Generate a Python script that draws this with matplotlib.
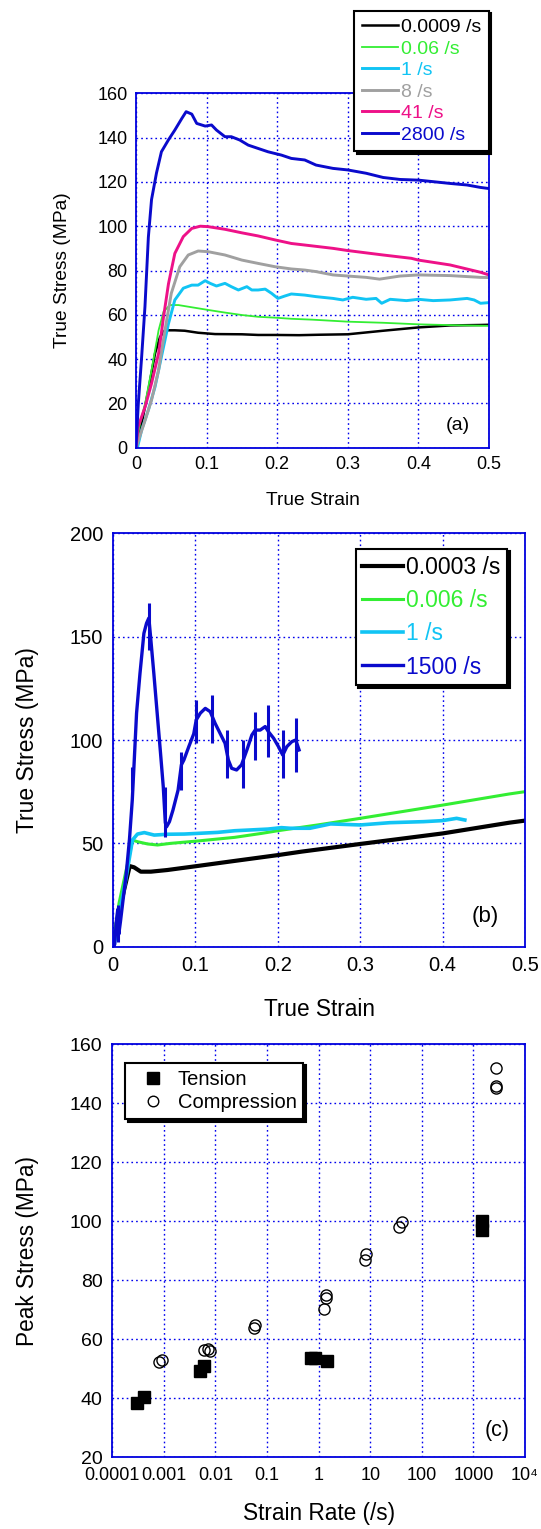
import numpy as np
import matplotlib.pyplot as plt

plt.rcParams['font.family'] = ['Liberation Sans', 'DejaVu Sans']

# ---- (a) compression, true stress vs true strain ----
labels_a = ['0.0009 /s', '0.06 /s', '1 /s', '8 /s', '41 /s', '2800 /s']
colors_a = ['#000000', '#33ee33', '#11c4f4', '#a0a0a0', '#ee1188', '#0a0acc']
widths_a = [1.8, 1.3, 2.1, 2.1, 2.1, 2.1]

strain_a1 = [0, 0.008, 0.0175, 0.027, 0.034, 0.041, 0.055, 0.069, 0.088, 0.112, 0.15, 0.173,
             0.197, 0.231, 0.26, 0.3, 0.35, 0.4, 0.445, 0.488, 0.5]
stress_a1 = [0, 11, 26, 42.6, 50, 53, 53, 52.8, 51.9, 51.3, 51.2, 50.9,
             50.9, 50.8, 51, 51.2, 52.8, 54.3, 55.2, 55.4, 55.5]

strain_a2 = [0, 0.0057, 0.013, 0.022, 0.032, 0.039, 0.048, 0.06, 0.079, 0.102, 0.126, 0.15,
             0.173, 0.197, 0.22, 0.25, 0.3, 0.35, 0.4, 0.45, 0.5]
stress_a2 = [0, 11, 20, 35, 53, 61.4, 64.4, 64.4, 63.4, 62.2, 61, 59.9,
             59.1, 58.7, 58.2, 57.8, 56.9, 56.4, 55.7, 55.3, 55]

strain_a3 = [0.002, 0.008, 0.0175, 0.027, 0.036, 0.046, 0.055, 0.067, 0.079, 0.088, 0.098, 0.105,
             0.114, 0.126, 0.135, 0.145, 0.157, 0.164, 0.173, 0.183, 0.192, 0.201, 0.211, 0.22,
             0.239, 0.255, 0.279, 0.293, 0.307, 0.326, 0.34, 0.348, 0.36, 0.383, 0.4, 0.421,
             0.445, 0.469, 0.479, 0.488, 0.5]
stress_a3 = [0, 8, 17, 27.5, 41, 56, 66.7, 72, 73.4, 73.4, 75.4, 74.2,
             73, 74.2, 72.7, 71.2, 72.7, 71.2, 71.2, 71.6, 69.7, 67.4, 68.5, 69.4,
             68.9, 68.2, 67.4, 66.7, 67.9, 67, 67.4, 65.2, 67, 66.4, 67, 66.4,
             66.7, 67.4, 66.7, 65.2, 65.5]

strain_a4 = [0, 0.013, 0.022, 0.032, 0.041, 0.05, 0.062, 0.074, 0.088, 0.102, 0.126, 0.15,
             0.173, 0.197, 0.22, 0.239, 0.255, 0.279, 0.3, 0.326, 0.345, 0.374, 0.4, 0.445, 0.488, 0.5]
stress_a4 = [0, 12.5, 21.5, 35, 53, 69.7, 81.7, 87, 88.8, 88.5, 87, 84.7,
             83.2, 81.7, 80.7, 80.2, 79.5, 78, 77.5, 76.9, 76.1, 77.5, 78, 77.7, 76.9, 76.8]

strain_a5 = [0, 0.003, 0.013, 0.022, 0.032, 0.039, 0.046, 0.055, 0.067, 0.079, 0.091, 0.102,
             0.126, 0.15, 0.173, 0.197, 0.22, 0.239, 0.279, 0.3, 0.35, 0.39, 0.4, 0.445, 0.488, 0.5]
stress_a5 = [0, 9.5, 18.5, 29, 42.6, 59, 74, 87.7, 95.3, 99, 100, 99.8,
             98.6, 97, 95.6, 93.8, 92.2, 91.5, 90, 89, 87, 85.5, 84.7, 82.5, 79.2, 78]

strain_a6 = [0, 0.0033, 0.008, 0.0127, 0.0175, 0.022, 0.029, 0.036, 0.046, 0.055, 0.065, 0.071,
             0.079, 0.086, 0.098, 0.107, 0.114, 0.126, 0.135, 0.147, 0.159, 0.173, 0.187, 0.206,
             0.22, 0.239, 0.255, 0.279, 0.3, 0.326, 0.35, 0.374, 0.4, 0.421, 0.445, 0.469, 0.488, 0.5]
stress_a6 = [0, 20, 41, 63.7, 95, 112, 124, 133.6, 139, 143.4, 148.7, 151.7,
             150.6, 146.4, 145.2, 145.7, 143.4, 140.4, 140.4, 138.9, 136.6, 135.1, 133.6, 132.1,
             130.6, 129.9, 127.6, 126.1, 125.4, 123.9, 122, 121.1, 120.8, 120.1, 119.3, 118.6, 117.5, 117]

# ---- (b) tension, true stress vs true strain ----
labels_b = ['0.0003 /s', '0.006 /s', '1 /s', '1500 /s']
colors_b = ['#000000', '#33ee33', '#11c4f4', '#0a0acc']
widths_b = [3.0, 2.2, 2.6, 2.4]

strain_b1 = [0, 0.0053, 0.0134, 0.0203, 0.0256, 0.0337, 0.046, 0.066, 0.1016, 0.1476, 0.2016,
             0.229, 0.3, 0.4, 0.481, 0.5]
stress_b1 = [0, 12.9, 27.4, 39, 38.4, 36.3, 36.3, 37.1, 39, 41.5, 44.4,
             46, 49.7, 54.8, 60, 61]

strain_b2 = [0, 0.0033, 0.0073, 0.0134, 0.0195, 0.0236, 0.0297, 0.042, 0.054, 0.07, 0.1016,
             0.1476, 0.18, 0.2016, 0.25, 0.3, 0.4, 0.481, 0.5]
stress_b2 = [0, 9.7, 21, 32.3, 43.5, 51.6, 50.8, 49.7, 49.2, 50, 51.1,
             52.9, 54.8, 56.2, 59, 62.1, 68.5, 73.9, 75]

strain_b3 = [0.001, 0.0053, 0.0093, 0.0154, 0.0195, 0.0236, 0.0297, 0.038, 0.05, 0.066, 0.0866,
             0.1016, 0.127, 0.1476, 0.168, 0.188, 0.2045, 0.215, 0.239, 0.264, 0.3, 0.336,
             0.377, 0.4, 0.417, 0.427]
stress_b3 = [0, 9.7, 19.4, 32.3, 42, 51.6, 54.5, 55.2, 54, 54.4, 54.5,
             54.8, 55.3, 56.1, 56.5, 56.9, 57.6, 57.3, 57.3, 59.4, 58.9, 60,
             60.5, 61, 62.1, 61.3]

strain_b4 = [0, 0.002, 0.004, 0.0058, 0.007, 0.009, 0.012, 0.016, 0.02, 0.0234, 0.0254, 0.0286,
             0.0327, 0.0375, 0.0407, 0.0435, 0.0456, 0.0496, 0.0536, 0.0577, 0.061, 0.0635, 0.065,
             0.0685, 0.0727, 0.079, 0.083, 0.086, 0.092, 0.098, 0.101, 0.106, 0.112, 0.118, 0.124,
             0.13, 0.136, 0.14, 0.144, 0.15, 0.156, 0.1625, 0.1685, 0.1726, 0.1786, 0.1847, 0.1887,
             0.195, 0.2008, 0.206, 0.211, 0.217, 0.2218, 0.2258]
stress_b4 = [0, 1, 12, 18, 6, 12, 22, 35, 52, 71, 87, 113,
             132, 151.6, 156.5, 159, 150, 132, 113, 93.5, 77.4, 60, 58,
             60.5, 66, 75.8, 88, 90.3, 96.8, 103, 109.7, 113, 115.3, 113.7, 108,
             103.2, 98.4, 90.3, 86.3, 85.5, 88, 95.2, 102.4, 104.8, 104.8, 106.5, 104,
             100.8, 96.8, 92.7, 96.8, 99.2, 100, 95.2]

# sharp noise spikes on the 1500 /s record
spike_strain_b4 = [0.0058, 0.0234, 0.0435, 0.0635, 0.0827, 0.1012, 0.1202, 0.1387, 0.1573,
                   0.1718, 0.1887, 0.206, 0.2218]
spike_lo_b4 = [2.4, 75.8, 143.5, 53.2, 75.8, 98.4, 98.4, 81.5, 76.6, 90.3, 91.9, 81.5, 84.7]
spike_hi_b4 = [20.2, 87.1, 166.1, 77.4, 94.4, 119.4, 121.8, 104.8, 100, 113.7, 116.9, 104.8, 110.5]

# ---- (c) peak stress vs strain rate ----
tension_rate = [3.0e-4, 4.1e-4, 5.0e-3, 6.0e-3, 0.7, 0.85, 1.45, 1480, 1480]
tension_peak = [38.3, 40.3, 49.4, 51.1, 53.5, 53.5, 52.8, 100, 97]
compression_rate = [8.2e-4, 9.3e-4, 5.9e-3, 7.1e-3, 7.8e-3, 0.056, 0.059, 1.26, 1.37, 1.37,
                    7.9, 8.3, 35.5, 41.4, 2700, 2700, 2700]
compression_peak = [52.4, 53.0, 56.4, 56.6, 56.0, 63.7, 64.9, 70.2, 74.1, 75.0,
                    86.9, 88.8, 98.0, 99.9, 151.9, 145.9, 145.1]
rate_ticks = [1e-4, 1e-3, 1e-2, 1e-1, 1, 10, 100, 1000, 1e4]
rate_ticklabels = ['0.0001', '0.001', '0.01', '0.1', '1', '10', '100', '1000', '10\u2074']

W, H = 541, 1529
fig = plt.figure(figsize=(W / 100, H / 100), dpi=100)


def px_axes(left, top, right, bottom):
    return fig.add_axes([left / W, 1 - bottom / H, (right - left) / W, (bottom - top) / H])


def style(ax, fs, pad):
    ax.grid(True, color='#0000ee', linestyle=(0, (1.2, 2.2)), linewidth=1.0)
    ax.set_axisbelow(True)
    for s in ax.spines.values():
        s.set_color('#0000dd')
        s.set_linewidth(1.3)
    ax.tick_params(length=0, labelsize=fs, pad=pad)


def legend_style(leg):
    leg.get_frame().set_linewidth(1.5)
    leg.get_frame().set_edgecolor('black')


# panel (a)
ax = px_axes(136, 93.3, 489, 447.7)
series_a = [(strain_a1, stress_a1), (strain_a2, stress_a2), (strain_a3, stress_a3),
            (strain_a4, stress_a4), (strain_a5, stress_a5), (strain_a6, stress_a6)]
for (x, y), lab, c, lw in zip(series_a, labels_a, colors_a, widths_a):
    ax.plot(x, y, color=c, lw=lw, label=lab)
ax.set_xlim(0, 0.5)
ax.set_ylim(0, 160)
ax.set_xticks(np.arange(0, 0.51, 0.1))
ax.set_xticklabels(['0', '0.1', '0.2', '0.3', '0.4', '0.5'])
ax.set_yticks(np.arange(0, 161, 20))
style(ax, 13, 6)
ax.set_xlabel('True Strain', fontsize=13.8, labelpad=14)
ax.set_ylabel('True Stress (MPa)', fontsize=13.8, labelpad=19)
ax.text(0.456, 9.8, '(a)', fontsize=14, ha='center', va='center')
leg = ax.legend(loc='upper left', bbox_to_anchor=(354 / W, 1 - 10.7 / H),
                bbox_transform=fig.transFigure, borderaxespad=0, fontsize=14,
                handlelength=1.85, handletextpad=0.15, labelspacing=0.2, borderpad=0.4,
                fancybox=False, framealpha=1, labelcolor='linecolor',
                shadow={'color': 'black', 'alpha': 1})
legend_style(leg)

# panel (b)
ax = px_axes(113, 533.3, 525, 946.7)
series_b = [(strain_b1, stress_b1), (strain_b2, stress_b2), (strain_b3, stress_b3),
            (strain_b4, stress_b4)]
for (x, y), lab, c, lw in zip(series_b, labels_b, colors_b, widths_b):
    ax.plot(x, y, color=c, lw=lw, label=lab)
ax.vlines(spike_strain_b4, spike_lo_b4, spike_hi_b4, color=colors_b[3], lw=2.2)
ax.set_xlim(0, 0.5)
ax.set_ylim(0, 200)
ax.set_xticks(np.arange(0, 0.51, 0.1))
ax.set_xticklabels(['0', '0.1', '0.2', '0.3', '0.4', '0.5'])
ax.set_yticks(np.arange(0, 201, 50))
style(ax, 14.5, 7)
ax.set_xlabel('True Strain', fontsize=16.3, labelpad=16)
ax.set_ylabel('True Stress (MPa)', fontsize=16.5, labelpad=22)
ax.text(0.452, 14.8, '(b)', fontsize=16, ha='center', va='center')
leg = ax.legend(loc='upper left', bbox_to_anchor=(355.6 / W, 1 - 548.7 / H),
                bbox_transform=fig.transFigure, borderaxespad=0, fontsize=16.5,
                handlelength=1.75, handletextpad=0.15, labelspacing=0.45, borderpad=0.3,
                fancybox=False, framealpha=1, labelcolor='linecolor',
                shadow={'color': 'black', 'alpha': 1})
legend_style(leg)

# panel (c)
ax = px_axes(112.3, 1044.3, 525, 1457.3)
ax.plot(tension_rate, tension_peak, 's', ms=8.7, color='black', label='Tension')
ax.plot(compression_rate, compression_peak, 'o', ms=8, mfc='none', mec='black', mew=1.0,
        label='Compression')
ax.set_xscale('log')
ax.set_xlim(1e-4, 1e4)
ax.set_ylim(20, 160)
ax.set_xticks(rate_ticks)
ax.set_xticklabels(rate_ticklabels)
ax.xaxis.set_minor_locator(plt.NullLocator())
ax.set_yticks(np.arange(20, 161, 20))
style(ax, 14, 7)
ax.tick_params(axis='x', labelsize=13)
ax.set_xlabel('Strain Rate (/s)', fontsize=16.3, labelpad=13)
ax.set_ylabel('Peak Stress (MPa)', fontsize=16.3, labelpad=22)
ax.text(0.932, 0.064, '(c)', fontsize=15.5, ha='center', va='center', transform=ax.transAxes)
leg = ax.legend(loc='upper left', bbox_to_anchor=(125.4 / W, 1 - 1062.7 / H),
                bbox_transform=fig.transFigure, borderaxespad=0, fontsize=14.5,
                handlelength=2.0, handletextpad=0.24, labelspacing=0.22, borderpad=0.35,
                markerscale=0.95, fancybox=False, framealpha=1,
                shadow={'color': 'black', 'alpha': 1})
legend_style(leg)

fig.savefig('out.png', dpi=100)
